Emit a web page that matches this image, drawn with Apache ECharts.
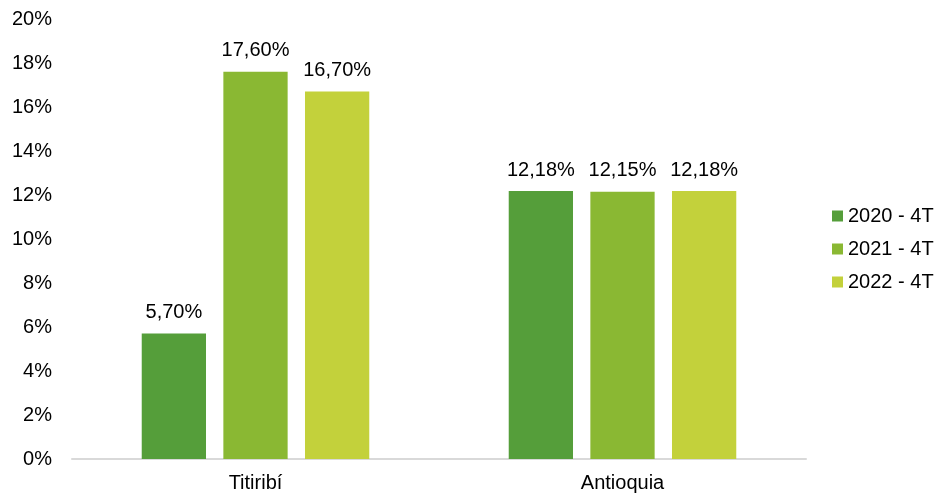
<!DOCTYPE html>
<html>
<head>
<meta charset="utf-8">
<script src="https://cdn.jsdelivr.net/npm/echarts@6/dist/echarts.min.js"></script>
<style>
  html, body { margin: 0; padding: 0; background: #fff; }
  #chart { width: 939px; height: 497px; }
</style>
</head>
<body>
<div id="chart"></div>
<script>
var categories = ['Titiribí', 'Antioquia'];
var seriesNames = ['2020 - 4T', '2021 - 4T', '2022 - 4T'];
var values2020 = [5.70, 12.18];
var values2021 = [17.60, 12.15];
var values2022 = [16.70, 12.18];
var colors = ['#559E3A', '#8AB833', '#C3D13B'];

var font = 'Liberation Sans, Arial, sans-serif';

function makeSeries(name, data, color) {
  return {
    name: name,
    type: 'bar',
    data: data,
    barGap: '27%',
    barCategoryGap: '38%',
    itemStyle: { color: color },
    label: {
      show: true,
      position: 'top',
      distance: 11,
      color: '#000',
      fontFamily: font,
      fontSize: 20,
      formatter: function (p) {
        return p.value.toFixed(2).replace('.', ',') + '%';
      }
    }
  };
}

var chart = echarts.init(document.getElementById('chart'));
chart.setOption({
  animation: false,
  grid: { left: 72, right: 133, top: 19, bottom: 38 },
  legend: {
    orient: 'vertical',
    left: 827,
    top: 201,
    itemWidth: 11,
    itemHeight: 11,
    itemGap: 13,
    icon: 'rect',
    textStyle: { color: '#000', fontFamily: font, fontSize: 20 },
    data: seriesNames
  },
  xAxis: {
    type: 'category',
    data: categories,
    axisLine: { lineStyle: { color: '#D9D9D9', width: 2 } },
    axisTick: { show: false },
    axisLabel: { color: '#000', fontFamily: font, fontSize: 20, margin: 14 }
  },
  yAxis: {
    type: 'value',
    min: 0,
    max: 20,
    interval: 2,
    splitLine: { show: false },
    axisLine: { show: false },
    axisLabel: {
      color: '#000', fontFamily: font, fontSize: 20, margin: 20,
      formatter: '{value}%'
    }
  },
  series: [
    makeSeries(seriesNames[0], values2020, colors[0]),
    makeSeries(seriesNames[1], values2021, colors[1]),
    makeSeries(seriesNames[2], values2022, colors[2])
  ]
});
</script>
</body>
</html>
